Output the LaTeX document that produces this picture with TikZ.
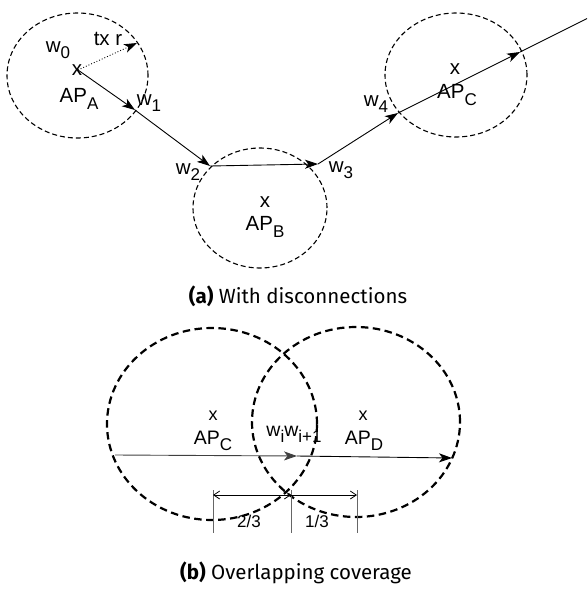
\documentclass[tikz,border=0pt]{standalone}
\usepackage{fontspec}
\setmainfont{Liberation Sans}
\newfontfamily\capfont{Fira Sans}
\usetikzlibrary{arrows.meta,shapes.geometric}
\newcommand{\lowsub}[1]{\raisebox{-0.3em}{\fontsize{17}{17}\selectfont #1}}
\tikzset{
  lbl/.style={inner sep=0pt,font=\fontsize{20.5}{20.5}\selectfont},
  covA/.style={draw,ellipse,inner sep=0pt,outer sep=0pt,line width=1.1pt,dash pattern=on 5pt off 3pt},
  covB/.style={draw,ellipse,inner sep=0pt,outer sep=0pt,line width=2.2pt,dash pattern=on 7.5pt off 4.5pt},
  tip/.style={-{Stealth[length=13pt,width=9pt,inset=3.5pt]}},
  seg/.style={line width=0.9pt},
  dim/.style={line width=0.8pt,black!60},
  dimarr/.style={line width=0.8pt,{Straight Barb[length=6pt,width=8pt]}-{Straight Barb[length=6pt,width=8pt]}},
  captxt/.style={inner sep=0pt,font=\capfont\fontsize{20.5}{20.5}\selectfont}
}
\begin{document}
\begin{tikzpicture}[x=1pt,y=-1pt]
\useasboundingbox (0,0) rectangle (587,594);
% ---------- (a) ----------
\node[covA,minimum width=141,minimum height=125] (cA) at (77.5,75.5) {};
\node[covA,minimum width=134,minimum height=120] (cB) at (260,208) {};
\node[covA,minimum width=142,minimum height=124] (cC) at (456,75) {};

\node[lbl] (xA) at (77,70) {x};
\node[lbl] (xB) at (265,202) {x};
\node[lbl] (xC) at (455,69) {x};
\node[lbl] (apA) at (79,99) {AP\lowsub{A}};
\node[lbl] (apB) at (265,227) {AP\lowsub{B}};
\node[lbl] (apC) at (457,95) {AP\lowsub{C}};

\coordinate (pA) at (78,70);
\coordinate (pr) at (137,43);
\coordinate (w1p) at (135,110);
\coordinate (w2p) at (210,166);
\coordinate (w3p) at (318,164);
\coordinate (w4p) at (398,113);
\coordinate (w5p) at (520,52);
\coordinate (endp) at (587,18.5);

\draw[seg,dotted,tip] (pA) -- (pr);
\draw[seg,tip] (pA) -- (w1p);
\draw[seg,tip] (w1p) -- (w2p);
\draw[seg,tip] (w2p) -- (w3p);
\draw[seg,tip] (w3p) -- (w4p);
\draw[seg,tip] (w4p) -- (w5p);
\draw[seg] (w5p) -- (endp);

\node[lbl] (tx) at (108,39) {tx r};
\node[lbl] (w0) at (58,50) {w\lowsub{0}};
\node[lbl] (w1) at (149,103) {w\lowsub{1}};
\node[lbl] (w2) at (188,172) {w\lowsub{2}};
\node[lbl] (w3) at (341,170) {w\lowsub{3}};
\node[lbl] (w4) at (376,104) {w\lowsub{4}};

\node[captxt] (capa) at (298,296) {\textbf{(a)} With disconnections};

% ---------- (b) ----------
\node[covB,minimum width=210,minimum height=192] (cC2) at (212,424) {};
\node[covB,minimum width=208,minimum height=190] (cD) at (356,422) {};

\node[lbl,font=\fontsize{18}{18}\selectfont] (xC2) at (213,416) {x};
\node[lbl,font=\fontsize{18}{18}\selectfont] (xD) at (363,416) {x};
\node[lbl,font=\fontsize{19.5}{19.5}\selectfont] (apC2) at (213,441) {AP\lowsub{C}};
\node[lbl,font=\fontsize{19.5}{19.5}\selectfont] (apD) at (364,441) {AP\lowsub{D}};
\node[lbl,font=\fontsize{19.5}{19.5}\selectfont] (ww) at (294,434) {w\lowsub{i}w\lowsub{i+1}};

\coordinate (b0) at (115,455);
\coordinate (b1) at (297,456);
\coordinate (b2) at (452,458);
\draw[seg,black!75,tip] (b0) -- (b1);
\draw[seg,tip] (b1) -- (b2);

\coordinate (t1) at (213,490);
\coordinate (t2) at (291,490);
\coordinate (t3) at (357,490);
\coordinate (t1e) at (213,533);
\coordinate (t2e) at (291,533);
\coordinate (t3e) at (357,533);
\draw[dim] (t1) -- (t1e);
\draw[dim] (t2) -- (t2e);
\draw[dim] (t3) -- (t3e);
\coordinate (d1) at (213,495);
\coordinate (d2) at (291,495);
\coordinate (d3) at (357,495);
\draw[dimarr] (d1) -- (d2);
\draw[line width=0.8pt,-{Straight Barb[length=6pt,width=8pt]}] (d2) -- (d3);
\node[lbl,font=\fontsize{17}{17}\selectfont] (f23) at (249,521) {2/3};
\node[lbl,font=\fontsize{17}{17}\selectfont] (f13) at (317,521) {1/3};

\node[captxt] (capb) at (296,573) {\textbf{(b)} Overlapping coverage};
\end{tikzpicture}
\end{document}
